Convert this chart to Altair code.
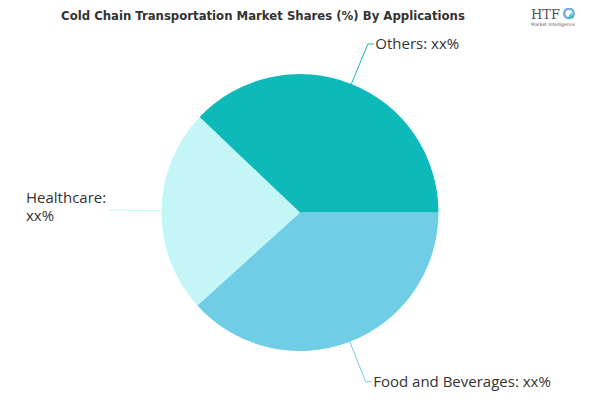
import math
import pandas as pd
import altair as alt

# ---- data ----
categories = ["Food and Beverages", "Healthcare", "Others"]
shares = [38.3, 23.8, 37.9]
label_texts = ["Food and Beverages: xx%", "Healthcare:\nxx%", "Others: xx%"]
colors = ["#6FCEE6", "#C4F6F8", "#0EB9BA"]
title_text = "Cold Chain Transportation Market Shares (%) By Applications"

# ---- layout ----
W, H = 584, 384
R = 138.5
CX, CY = 292, 204.5
START = 90.0  # degrees, clockwise from 12 o'clock

pie_df = pd.DataFrame({"category": categories, "share": shares,
                       "idx": list(range(len(categories)))})

# leader lines derived from the slice mid-angles
total = sum(shares)
rows, labels = [], []
acc = START
for i, (c, s, t) in enumerate(zip(categories, shares, label_texts)):
    a0 = acc
    a1 = acc + s / total * 360.0
    acc = a1
    mid = math.radians((a0 + a1) / 2)
    sx, sy = math.sin(mid), math.cos(mid)
    side = 1 if sx >= 0 else -1
    ex, ey = sx * 1.0, sy * 1.0
    bx, by = sx * 1.32, sy * 1.31
    seg = (6 if side > 0 else 10) / R
    fx, fy = bx + side * seg, by
    for k, (px, py) in enumerate([(ex, ey), (bx, by), (fx, fy)]):
        rows.append({"category": c, "k": k, "x": px, "y": py})
    if side > 0:
        lx, ly = fx + 1.5 / R, fy
    else:
        lx, ly = (18 - CX) / R, fy + 12 / R
    labels.append({"category": c, "text": t, "x": lx, "y": ly})

line_df = pd.DataFrame(rows)
lab_df = pd.DataFrame(labels)

xs = alt.Scale(domain=[-CX / R, (W - CX) / R], range=[0, W], nice=False, zero=False)
ys = alt.Scale(domain=[-(H - CY) / R, CY / R], range=[H, 0], nice=False, zero=False)
cs = alt.Scale(domain=categories, range=colors)

pie = alt.Chart(pie_df).mark_arc(outerRadius=R, strokeWidth=0).encode(
    theta=alt.Theta("share:Q", scale=alt.Scale(range=[math.pi / 2, math.pi / 2 + 2 * math.pi])),
    color=alt.Color("category:N", scale=cs, legend=None),
    order=alt.Order("idx:Q"),
    x=alt.value(CX),
    y=alt.value(CY),
)

lines = alt.Chart(line_df).mark_line(strokeWidth=1).encode(
    x=alt.X("x:Q", scale=xs, axis=None),
    y=alt.Y("y:Q", scale=ys, axis=None),
    color=alt.Color("category:N", scale=cs, legend=None),
    detail="category:N",
    order="k:Q",
)

texts = alt.Chart(lab_df).mark_text(
    align="left", baseline="middle", font="Open Sans", fontSize=15,
    color="#333333", lineBreak="\n", lineHeight=18,
).encode(
    x=alt.X("x:Q", scale=xs, axis=None),
    y=alt.Y("y:Q", scale=ys, axis=None),
    text="text:N",
)

deco_df = pd.DataFrame({"t": [title_text]})
title = alt.Chart(deco_df).mark_text(
    font="DejaVu Sans Condensed, Liberation Sans, sans-serif", fontWeight="bold", fontSize=13,
    color="#333333", align="center", baseline="alphabetic",
).encode(x=alt.value(255), y=alt.value(11.5), text="t:N")

logo1 = alt.Chart(pd.DataFrame({"t": ["HTF"]})).mark_text(
    font="DejaVu Serif", fontSize=13, color="#555555", align="left", baseline="alphabetic",
).encode(x=alt.value(523), y=alt.value(10.5), text="t:N")
logo2 = alt.Chart(pd.DataFrame({"t": ["Market Intelligence"]})).mark_text(
    font="DejaVu Sans", fontSize=4.6, color="#555555", align="left", baseline="middle",
).encode(x=alt.value(523), y=alt.value(17), text="t:N")
logo3 = alt.Chart(pd.DataFrame({"t": [1]})).mark_point(
    shape="circle", size=90, color="#3a8fc9", strokeWidth=2.5, filled=False,
).encode(x=alt.value(561), y=alt.value(5.5))
logo4 = alt.Chart(pd.DataFrame({"t": [1]})).mark_point(
    shape="triangle-up", size=40, color="#1fb5c0", filled=True,
).encode(x=alt.value(563), y=alt.value(7))

chart = alt.layer(pie, lines, texts, title, logo1, logo2, logo3, logo4).properties(
    width=W, height=H, autosize=alt.AutoSizeParams(type="none"), padding=0,
).configure_view(stroke=None)

chart.save("out.html", embed_options={"renderer": "svg", "actions": False})
